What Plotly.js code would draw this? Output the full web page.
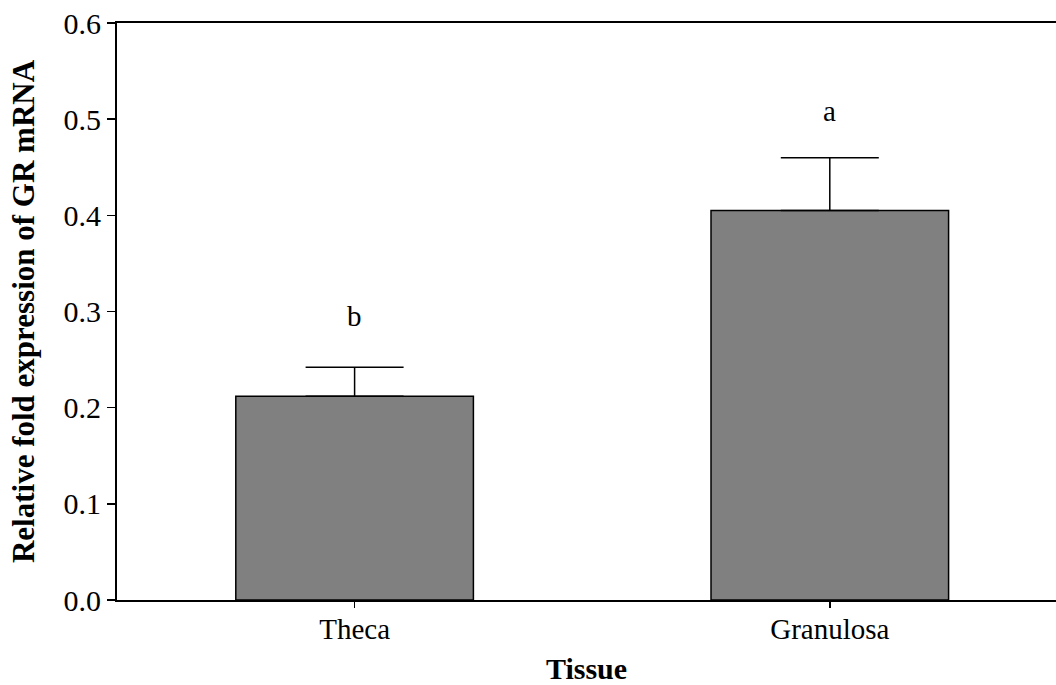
<!DOCTYPE html>
<html>
<head>
<meta charset="utf-8">
<script src="https://cdn.plot.ly/plotly-3.0.1.min.js"></script>
<style>html,body{margin:0;padding:0;background:#fff;}#chart{width:1056px;height:685px;}</style>
</head>
<body>
<div id="chart"></div>
<script>
const categories = ["Theca", "Granulosa"];
const means = [0.212, 0.405];
const errors = [0.030, 0.055];
const letters = ["b", "a"];
const letterY = [0.295, 0.508];
const yTicks = [0.0, 0.1, 0.2, 0.3, 0.4, 0.5, 0.6];

const font = "'Liberation Serif', 'Times New Roman', serif";

const trace = {
  type: "bar",
  x: categories,
  y: means,
  width: 0.5,
  marker: {color: "#808080", line: {color: "#000", width: 1.5}},
  error_y: {type: "data", array: errors, symmetric: false, arrayminus: [0, 0], color: "#000", thickness: 1.5, width: 49},
  hoverinfo: "none"
};

const annotations = categories.map((c, i) => ({
  x: c, y: letterY[i], xref: "x", yref: "y", text: letters[i], showarrow: false,
  font: {family: font, size: 29, color: "#000"}
}));

const layout = {
  width: 1056, height: 685,
  margin: {l: 117, r: 0, t: 23, b: 85},
  paper_bgcolor: "#fff", plot_bgcolor: "#fff",
  showlegend: false,
  font: {family: font, size: 29, color: "#000"},
  xaxis: {
    type: "category", range: [-0.5, 1.476],
    showline: true, linecolor: "#000", linewidth: 2, mirror: true,
    ticks: "outside", ticklen: 6, tickwidth: 1.5, tickcolor: "#000",
    ticklabelstandoff: -4,
    showgrid: false, zeroline: false,
    tickfont: {family: font, size: 29, color: "#000"},
    title: {text: "<b>Tissue</b>", font: {family: font, size: 30, color: "#000"}, standoff: 20}
  },
  yaxis: {
    range: [0, 0.6], tickvals: yTicks, tickformat: ".1f",
    showline: true, linecolor: "#000", linewidth: 2,
    ticks: "outside", ticklen: 8, tickwidth: 1.5, tickcolor: "#000",
    showgrid: false, zeroline: false,
    tickfont: {family: font, size: 30, color: "#000"},
    title: {text: "<b>Relative fold expression of GR mRNA</b>", font: {family: font, size: 31, color: "#000"}, standoff: 20}
  },
  annotations: annotations
};

Plotly.newPlot("chart", [trace], layout, {displayModeBar: false, staticPlot: true});
</script>
</body>
</html>
